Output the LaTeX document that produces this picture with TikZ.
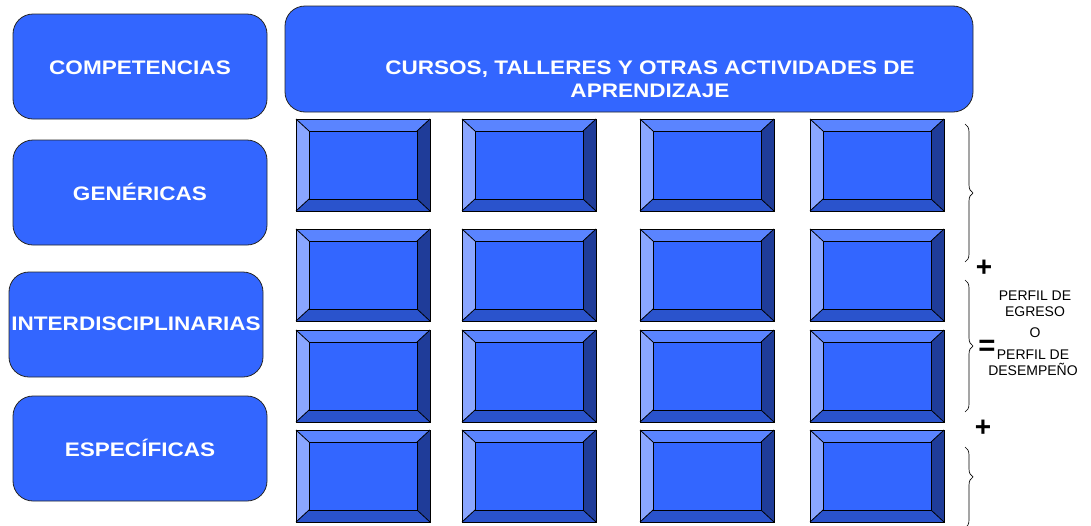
\documentclass[tikz,border=0pt]{standalone}
\usepackage{fontspec}
\setmainfont{Liberation Sans}
\newfontfamily\widefont[FakeStretch=1.15]{Liberation Sans}
\usepackage{tikz}
\usetikzlibrary{decorations.pathreplacing}

\definecolor{boxblue}{HTML}{3366FF}
\definecolor{beveltop}{HTML}{5A84FF}
\definecolor{bevelleft}{HTML}{8AA6FF}
\definecolor{bevelright}{HTML}{1F3C99}
\definecolor{bevelbottom}{HTML}{2A53CC}

\tikzset{
  roundbox/.style={draw=black!85, fill=boxblue, line width=0.6pt, rounded corners=15pt},
  boxlabel/.style={inner sep=0pt, text=white, text height=10.5pt, text depth=0pt, font=\widefont\bfseries\fontsize{14.7}{17.25}\selectfont},
  bevelline/.style={draw=black, line width=0.6pt},
  sidetext/.style={inner sep=0pt, align=center, font=\fontsize{10.5}{12}\selectfont},
  signtext/.style={inner sep=0pt, font=\bfseries\fontsize{21}{21}\selectfont},
  bracket/.style={decorate, decoration={brace, amplitude=6pt}, line width=0.5pt}
}

\begin{document}
\begin{tikzpicture}[x=0.75pt,y=0.75pt,yscale=-1,xscale=1]
\useasboundingbox (0,0) rectangle (1091,525);

% left column
\draw[roundbox] (13,14) rectangle (267,119);
\draw[roundbox] (13,140) rectangle (267,245);
\draw[roundbox] (9,272) rectangle (263,377);
\draw[roundbox] (13,396) rectangle (267,501);

\node (competencias) [boxlabel] at (140,67) {COMPETENCIAS};
\node (genericas) [boxlabel] at (140,193) {GENÉRICAS};
\node (interdisc) [boxlabel] at (136,323) {INTERDISCIPLINARIAS};
\node (especificas) [boxlabel] at (140,449) {ESPECÍFICAS};

% header
\draw[roundbox] (285,6) rectangle (973,112);
\node (cursos) [boxlabel, text height=, text depth=, align=center] at (650,79) {CURSOS, TALLERES Y OTRAS ACTIVIDADES DE\\APRENDIZAJE};

% bevelled boxes
\foreach \bx in {296,462,640,810}{
  \foreach \by in {119,229,330,430}{
    \fill[boxblue] (\bx,\by) rectangle ++(134,92);
    \fill[beveltop] (\bx,\by) -- (\bx+134,\by) -- (\bx+121,\by+12) -- (\bx+13,\by+12) -- cycle;
    \fill[bevelleft] (\bx,\by) -- (\bx+13,\by+12) -- (\bx+13,\by+80) -- (\bx,\by+92) -- cycle;
    \fill[bevelright] (\bx+134,\by) -- (\bx+134,\by+92) -- (\bx+121,\by+80) -- (\bx+121,\by+12) -- cycle;
    \fill[bevelbottom] (\bx,\by+92) -- (\bx+13,\by+80) -- (\bx+121,\by+80) -- (\bx+134,\by+92) -- cycle;
    \draw[bevelline] (\bx,\by) rectangle ++(134,92);
    \draw[bevelline] (\bx+13,\by+12) rectangle (\bx+121,\by+80);
    \draw[bevelline] (\bx,\by) -- (\bx+13,\by+12);
    \draw[bevelline] (\bx+134,\by) -- (\bx+121,\by+12);
    \draw[bevelline] (\bx,\by+92) -- (\bx+13,\by+80);
    \draw[bevelline] (\bx+134,\by+92) -- (\bx+121,\by+80);
  }
}

% braces and result
\draw[bracket] (965,124) -- (965,262);
\draw[bracket] (965,280) -- (965,412);
\draw[bracket, decoration={aspect=0.37}] (965,447) -- (965,528);

\node (plusone) [signtext] at (984,268) {+};
\node (equals) [signtext, font=\bfseries\fontsize{22}{22}\selectfont] at (987,348) {=};
\node (plustwo) [signtext] at (983,428) {+};

\node (egreso) [sidetext] at (1035,304) {PERFIL DE\\EGRESO};
\node (oletter) [sidetext] at (1035,333) {O};
\node (desempeno) [sidetext] at (1033,363) {PERFIL DE\\DESEMPEÑO};

\end{tikzpicture}
\end{document}
